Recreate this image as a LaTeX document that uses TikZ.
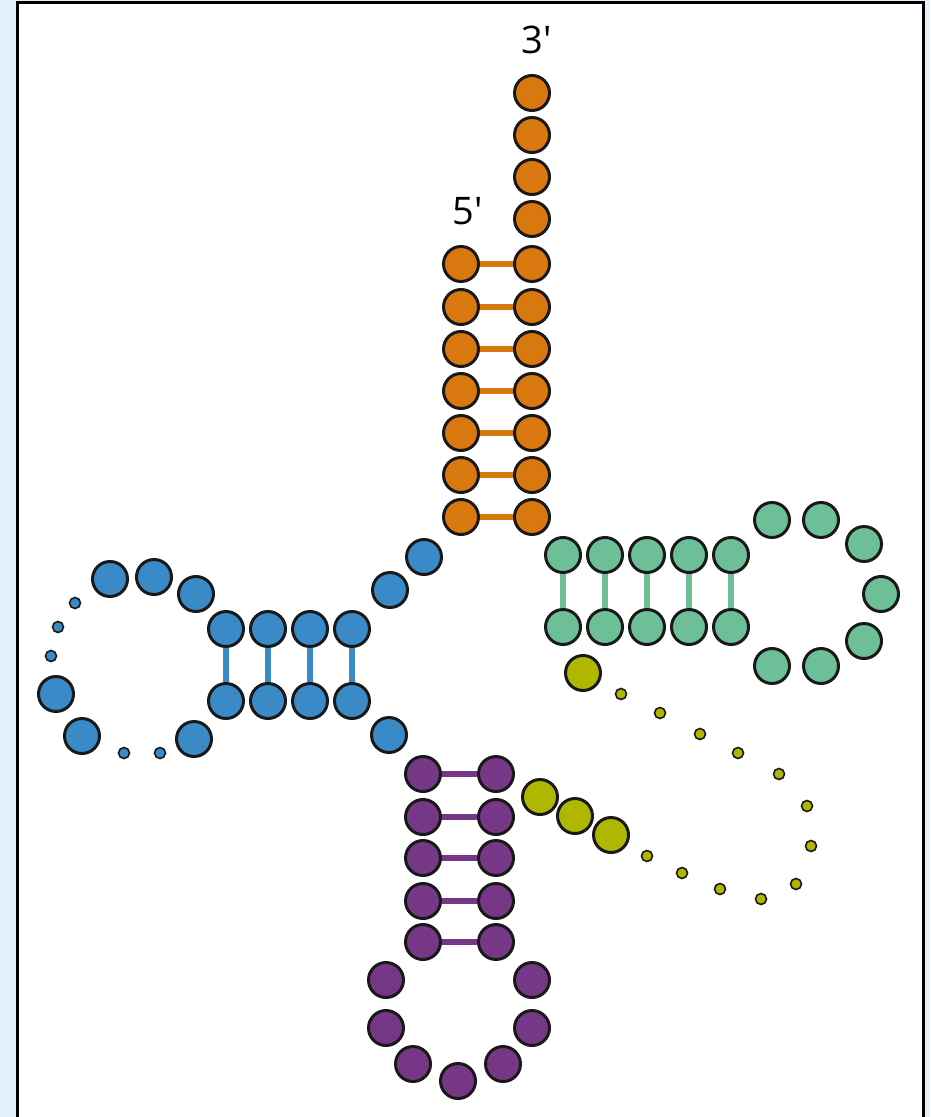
\documentclass[tikz,border=0pt]{standalone}
\usepackage{fontspec}
\setmainfont{Open Sans}
\definecolor{skyback}{HTML}{E4F1FD}
\definecolor{orna}{HTML}{D9780F}
\definecolor{blna}{HTML}{3A8AC8}
\definecolor{grna}{HTML}{6DBF98}
\definecolor{ylna}{HTML}{AFB700}
\definecolor{prna}{HTML}{773787}
\begin{document}
\begin{tikzpicture}[x=0.5pt, y=-0.5pt]
        \tikzstyle{base} = [circle, draw=black!90, line width=1.5pt, minimum size=17.5pt, inner sep=0pt]
        \tikzstyle{dot} = [circle, draw=black!90, line width=0.8pt, minimum size=5.5pt, inner sep=0pt]
        \tikzstyle{pair} = [line width=3pt]
        \tikzstyle{ends} = [font=\fontsize{19}{22}\selectfont]
        \useasboundingbox (0,0) rectangle (930,1117);
        \fill[skyback] (0,0) rectangle (930,1117);
        \fill[white] (17.5,2.5) rectangle (923.5,1117);
        \draw[line width=1.5pt] (17.5,1117) -- (17.5,2.5) -- (923.5,2.5) -- (923.5,1117);
        % acceptor stem
        \node (three) [ends] at (537, 40) {3\textquotesingle};
        \node (five) [ends] at (468, 211) {5\textquotesingle};
        \foreach \y [count=\i] in {93,135,177,219}
            \node (ot\i) [base, fill=orna] at (532, \y) {};
        \foreach \y [count=\i] in {264,307,349,391,433,475,517} {
            \node (ol\i) [base, fill=orna] at (461, \y) {};
            \node (or\i) [base, fill=orna] at (532, \y) {};
            \draw[pair, orna] (ol\i) -- (or\i);
        }
        % D arm
        \node (bj1) [base, fill=blna] at (424, 557) {};
        \node (bj2) [base, fill=blna] at (390, 590) {};
        \node (bj3) [base, fill=blna] at (389, 735) {};
        \foreach \x [count=\i] in {226,268,310,352} {
            \node (bt\i) [base, fill=blna] at (\x, 629) {};
            \node (bb\i) [base, fill=blna] at (\x, 701) {};
            \draw[pair, blna] (bt\i) -- (bb\i);
        }
        \node (bl1) [base, fill=blna] at (196, 594) {};
        \node (bl2) [base, fill=blna] at (154, 577) {};
        \node (bl3) [base, fill=blna] at (110, 579) {};
        \node (bd1) [dot, fill=blna] at (75, 603) {};
        \node (bd2) [dot, fill=blna] at (58, 627) {};
        \node (bd3) [dot, fill=blna] at (51, 656) {};
        \node (bl4) [base, fill=blna] at (56, 694) {};
        \node (bl5) [base, fill=blna] at (82, 736) {};
        \node (bd4) [dot, fill=blna] at (124, 753) {};
        \node (bd5) [dot, fill=blna] at (160, 753) {};
        \node (bl6) [base, fill=blna] at (194, 739) {};
        % T arm
        \foreach \x [count=\i] in {563,605,647,689,731} {
            \node (gt\i) [base, fill=grna] at (\x, 555) {};
            \node (gb\i) [base, fill=grna] at (\x, 627) {};
            \draw[pair, grna] (gt\i) -- (gb\i);
        }
        \node (gl1) [base, fill=grna] at (772, 520) {};
        \node (gl2) [base, fill=grna] at (821, 520) {};
        \node (gl3) [base, fill=grna] at (864, 544) {};
        \node (gl4) [base, fill=grna] at (881, 594) {};
        \node (gl5) [base, fill=grna] at (864, 641) {};
        \node (gl6) [base, fill=grna] at (821, 666) {};
        \node (gl7) [base, fill=grna] at (772, 666) {};
        % variable loop
        \node (yv1) [base, fill=ylna] at (583, 673) {};
        \foreach \x/\y [count=\i] in {621/694, 660/713, 700/734, 738/753, 779/774, 807/806,
                811/846, 796/884, 761/899, 720/889, 682/873, 647/856}
            \node (yd\i) [dot, fill=ylna] at (\x, \y) {};
        \node (yv2) [base, fill=ylna] at (611, 835) {};
        \node (yv3) [base, fill=ylna] at (575, 816) {};
        \node (yv4) [base, fill=ylna] at (540, 797) {};
        % anticodon arm
        \foreach \y [count=\i] in {774,817,858,901,942} {
            \node (pl\i) [base, fill=prna] at (423, \y) {};
            \node (pr\i) [base, fill=prna] at (496, \y) {};
            \draw[pair, prna] (pl\i) -- (pr\i);
        }
        \node (pa1) [base, fill=prna] at (386, 980) {};
        \node (pa2) [base, fill=prna] at (386, 1028) {};
        \node (pa3) [base, fill=prna] at (413, 1064) {};
        \node (pa4) [base, fill=prna] at (458, 1081) {};
        \node (pa5) [base, fill=prna] at (503, 1064) {};
        \node (pa6) [base, fill=prna] at (532, 1028) {};
        \node (pa7) [base, fill=prna] at (532, 980) {};
    \end{tikzpicture}
\end{document}
